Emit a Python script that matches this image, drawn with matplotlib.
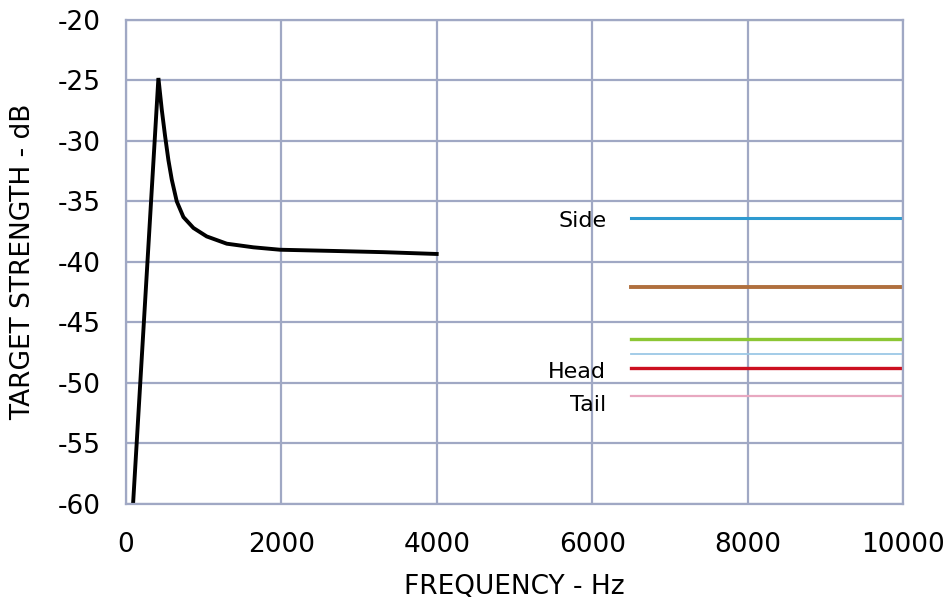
import numpy as np
import matplotlib.pyplot as plt

plt.rcParams['axes.unicode_minus'] = False

# resonance curve
freq = [90, 416, 459, 502, 545, 588, 652, 738, 867, 1038, 1296, 1639, 1982, 2668, 3311, 3998]
ts = [-60, -24.8, -27.4, -29.6, -31.6, -33.2, -35.0, -36.3, -37.2, -37.9, -38.5,
      -38.8, -39.0, -39.1, -39.2, -39.35]

# flat high-frequency levels
flat_x = [6500, 10000]
flat_levels = [-36.4, -42.1, -46.4, -47.6, -48.8, -51.1]
flat_colors = ['#2e9ad0', '#b0703e', '#8cc634', '#9cc8e6', '#cc1020', '#e8a8c0']
flat_widths = [2.2, 2.8, 2.4, 1.3, 2.4, 1.6]
labels = ['Side', 'Head', 'Tail']
label_y = [-36.6, -49.1, -51.8]

grid_c = '#a0a8c4'

fig = plt.figure(figsize=(9.48, 6.04), dpi=100)
ax = fig.add_axes([0.133, 0.166, 0.8195, 0.801])

ax.plot(freq, ts, color='black', lw=2.8, solid_joinstyle='miter')
for lev, c, w in zip(flat_levels, flat_colors, flat_widths):
    ax.plot(flat_x, [lev, lev], color=c, lw=w)

for lab, y in zip(labels, label_y):
    ax.text(6180, y, lab, ha='right', va='center', fontsize=16)

ax.set_xlim(0, 10000)
ax.set_ylim(-60, -20)
ax.set_xticks(np.arange(0, 10001, 2000))
ax.set_yticks(np.arange(-60, -19, 5))
ax.grid(True, color=grid_c, lw=1.6)
ax.set_axisbelow(True)
for s in ax.spines.values():
    s.set_color(grid_c)
    s.set_linewidth(1.6)
ax.tick_params(length=0, labelsize=19)
ax.tick_params(axis='x', pad=20)
ax.tick_params(axis='y', pad=18)

ax.set_xlabel('FREQUENCY - Hz', fontsize=19, labelpad=12)
ax.set_ylabel('TARGET STRENGTH - dB', fontsize=19, labelpad=16)

fig.savefig('out.png', dpi=100)
